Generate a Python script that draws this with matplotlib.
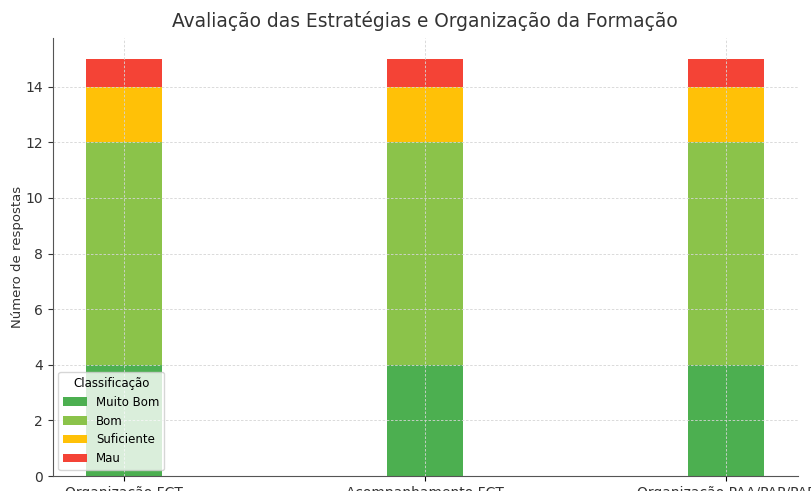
import matplotlib.pyplot as plt
import numpy as np

# Data
categorias = ["Organização FCT", "Acompanhamento FCT", "Organização PAA/PAP/PAF"]
muito_bom  = [4, 4, 4]
bom        = [8, 8, 8]
suficiente = [2, 2, 2]
mau        = [1, 1, 1]

niveis = ["Muito Bom", "Bom", "Suficiente", "Mau"]
cores  = ["#4CAF50", "#8BC34A", "#FFC107", "#F44336"]

fig = plt.figure(figsize=(8.12, 4.91), dpi=100)
ax = fig.add_axes([0.0647, 0.0305, 0.9175, 0.892])

x = np.arange(len(categorias))
base = np.zeros(len(categorias))
for nome, vals, cor in zip(niveis, [muito_bom, bom, suficiente, mau], cores):
    ax.bar(x, vals, width=0.25, bottom=base, color=cor, label=nome)
    base += np.array(vals)

ax.set_xticks(x)
ax.set_xticklabels(categorias, fontsize=10, color="#333333")
ax.tick_params(axis="y", labelsize=10, colors="#333333")
ax.set_ylabel("Número de respostas", fontsize=9.5, color="#333333", labelpad=1)
ax.set_title("Avaliação das Estratégias e Organização da Formação",
             fontsize=13.4, color="#333333", pad=8)

ax.grid(True, linestyle=(0, (3, 2)), color="#d5d5d5", linewidth=0.6)
for s in ["top", "right"]:
    ax.spines[s].set_visible(False)
for s in ["left", "bottom"]:
    ax.spines[s].set_color("#555555")

leg = ax.legend(title="Classificação", loc="lower left", fontsize=8.5,
                title_fontsize=8.5, framealpha=0.8)

fig.savefig("out.png", dpi=100)
